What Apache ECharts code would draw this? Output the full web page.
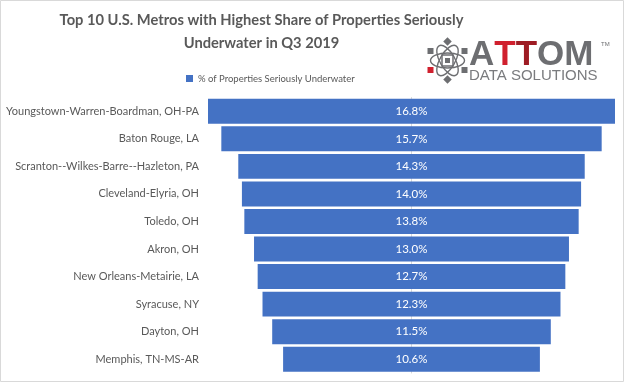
<!DOCTYPE html>
<html>
<head>
<meta charset="utf-8">
<script src="https://cdn.jsdelivr.net/npm/echarts@6/dist/echarts.min.js"></script>
<style>html,body{margin:0;padding:0;background:#fff}#chart{width:624px;height:382px}</style>
</head>
<body>
<div id="chart"></div>
<script>
const categories = [
  'Youngstown-Warren-Boardman, OH-PA',
  'Baton Rouge, LA',
  'Scranton--Wilkes-Barre--Hazleton, PA',
  'Cleveland-Elyria, OH',
  'Toledo, OH',
  'Akron, OH',
  'New Orleans-Metairie, LA',
  'Syracuse, NY',
  'Dayton, OH',
  'Memphis, TN-MS-AR'
];
const values = [16.8, 15.7, 14.3, 14.0, 13.8, 13.0, 12.7, 12.3, 11.5, 10.6];
const seriesName = '% of Properties Seriously Underwater';
const titleLines = ['Top 10 U.S. Metros with Highest Share of Properties Seriously', 'Underwater in Q3 2019'];

const FONT = 'Lato, "Open Sans", sans-serif';
const BLUE = '#4472c4';
const half = Math.max(...values) / 2;

const chart = echarts.init(document.getElementById('chart'), null, {renderer: 'canvas'});

// logo icon pieces
const cx = 447.5, cy = 60.5;
const icon = [];
[0, 60, 120].forEach(function (deg) {
  icon.push({type: 'ellipse', x: cx, y: cy, rotation: deg * Math.PI / 180,
    shape: {cx: 0, cy: 0, rx: 17, ry: 7.5},
    style: {fill: 'none', stroke: '#6d6e71', lineWidth: 1.4}});
});
const pts = [[0, -19, 'd'], [17, -9.5, 's'], [17, 9.5, 's'], [0, 19, 'd'], [-17, 9.5, 'r'], [-17, -9.5, 's']];
pts.forEach(function (p) {
  icon.push({type: 'rect', x: cx + p[0], y: cy + p[1], rotation: p[2] === 'd' ? Math.PI / 4 : 0,
    shape: {x: -3, y: -3, width: 6, height: 6},
    style: {fill: p[2] === 'r' ? '#d0202e' : '#6d6e71'}});
});
icon.push({type: 'rect', x: cx, y: cy, shape: {x: -5.5, y: -5.5, width: 11, height: 11},
  style: {fill: 'none', stroke: '#6d6e71', lineWidth: 1.5}});
icon.push({type: 'rect', x: cx, y: cy, shape: {x: -2.5, y: -2.5, width: 5, height: 5},
  style: {fill: '#6d6e71'}});

chart.setOption({
  animation: false,
  backgroundColor: '#fff',
  grid: {left: 208, right: 9, top: 97.5, bottom: 9, containLabel: false, outerBoundsMode: 'none'},
  legend: {
    data: [{name: seriesName, icon: 'rect', itemStyle: {color: BLUE}}],
    left: 181, top: 68.5, itemWidth: 7, itemHeight: 7, itemGap: 5,
    textStyle: {fontFamily: FONT, fontSize: 9.5, color: '#595959'}
  },
  xAxis: {
    type: 'value', min: -half, max: half, show: false,
    splitLine: {show: false}
  },
  yAxis: {
    type: 'category', data: categories, inverse: true,
    axisLine: {show: true, lineStyle: {color: '#d9d9d9', width: 1}},
    axisTick: {show: false},
    axisLabel: {fontFamily: FONT, fontSize: 11, color: '#595959', margin: 9}
  },
  series: [{
    name: seriesName,
    type: 'custom',
    itemStyle: {color: BLUE},
    encode: {x: 0, y: 1},
    data: values.map(function (v, i) { return [v, i]; }),
    renderItem: function (params, api) {
      const v = api.value(0);
      const idx = api.value(1);
      const p0 = api.coord([-v / 2, idx]);
      const p1 = api.coord([v / 2, idx]);
      const h = api.size([0, 1])[1] * 0.905;
      return {
        type: 'rect',
        shape: {x: p0[0], y: p0[1] - h / 2, width: p1[0] - p0[0], height: h},
        style: {fill: BLUE},
        textContent: {style: {text: v.toFixed(1) + '%', fill: '#ffffff', font: '11.5px ' + FONT}},
        textConfig: {position: 'inside'}
      };
    }
  }],
  graphic: [
    {type: 'rect', shape: {x: 0.5, y: 0.5, width: 623, height: 381},
      style: {fill: 'none', stroke: '#d9d9d9', lineWidth: 1}, silent: true},
    {type: 'text', x: 261.5, y: 20, style: {text: titleLines[0], textAlign: 'center', textVerticalAlign: 'middle',
      font: 'bold 14.7px ' + FONT, fill: '#595959'}},
    {type: 'text', x: 261.5, y: 43, style: {text: titleLines[1], textAlign: 'center', textVerticalAlign: 'middle',
      font: 'bold 14.7px ' + FONT, fill: '#595959'}},
    {type: 'text', x: 469, y: 55, style: {
      text: '{g|A}{r|T}{d|T}{g|OM}', textVerticalAlign: 'middle',
      rich: {
        g: {font: 'bold 35px "Liberation Sans", Arial, sans-serif', fill: '#6d6e71'},
        r: {font: 'bold 35px "Liberation Sans", Arial, sans-serif', fill: '#d0202e'},
        d: {font: 'bold 35px "Liberation Sans", Arial, sans-serif', fill: '#9e1c24'}
      }}},
    {type: 'text', x: 601, y: 44, style: {text: 'TM', font: '6px "Liberation Sans", Arial', fill: '#6d6e71', textVerticalAlign: 'middle'}},
    {type: 'text', x: 469, y: 75.5, style: {text: 'DATA SOLUTIONS', textVerticalAlign: 'middle',
      font: '15px "Liberation Sans", Arial, sans-serif', fill: '#7a7b7e'}}
  ].concat(icon)
});
</script>
</body>
</html>
